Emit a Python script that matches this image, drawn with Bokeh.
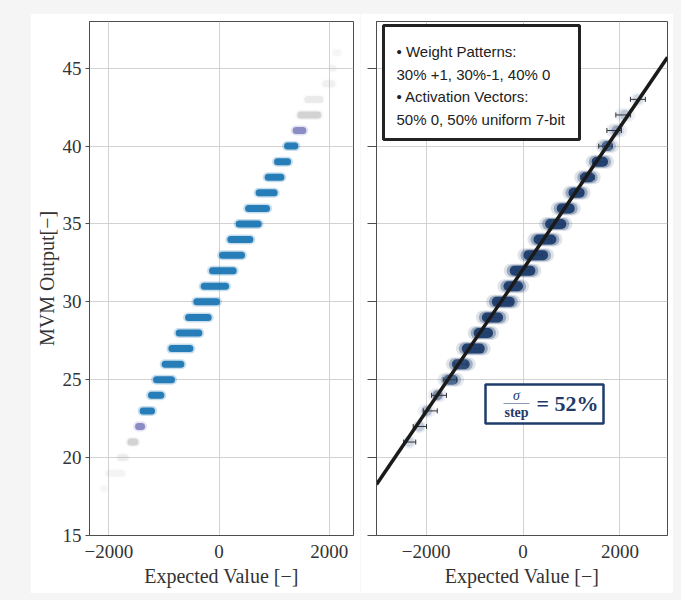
import numpy as np
from bokeh.plotting import figure
from bokeh.models import Range1d, BoxAnnotation, Label, Spacer
from bokeh.layouts import row, column
from bokeh.embed import file_html
from bokeh.resources import INLINE

# ---------------- data ----------------
x_ticks = [-2000, 0, 2000]
y_ticks = [15, 20, 25, 30, 35, 40, 45]
x_tick_labels = {-2000: "\u22122000", 0: "0", 2000: "2000"}

# left panel: output level, x-extent of each cluster, relative density
left_levels = list(range(18, 47))
left_lo = [-2155, -2095, -1883, -1701, -1561, -1478, -1326, -1235, -1078, -957,
           -824, -654, -503, -370, -218, -36, 114, 265, 436, 628,
           792, 962, 1144, 1300, 1385, 1512, 1839, 1984, 2020]
left_hi = [-2033, -1670, -1610, -1429, -1307, -1126, -957, -763, -594, -430,
           -267, -98, 54, 218, 356, 508, 659, 810, 962, 1100,
           1222, 1343, 1476, 1621, 1893, 1930, 2148, 2148, 2257]
left_weight = [0.04, 0.05, 0.08, 0.22, 0.5, 1, 1, 1, 1, 1,
               1, 1, 1, 1, 1, 1, 1, 1, 1, 1,
               1, 1, 0.95, 0.5, 0.22, 0.1, 0.07, 0.05, 0.04]

# right panel
right_levels = list(range(21, 44))
right_lo = [-2487, -2280, -2177, -1959, -1765, -1594, -1388, -1146, -975, -769,
            -528, -400, -115, 91, 330, 571, 812, 1058, 1293, 1499,
            1705, 1877, 2200]
right_hi = [-2212, -2006, -1800, -1573, -1216, -975, -666, -495, -288, -47,
            124, 379, 640, 812, 1018, 1190, 1396, 1602, 1877, 1980,
            2153, 2324, 2540]
right_weight = [0.12, 0.18, 0.25, 0.45, 0.7, 0.9, 1, 1, 1, 1,
                1, 1, 1, 1, 1, 1, 1, 1, 1, 0.7,
                0.35, 0.2, 0.12]
right_mean = [-2340, -2130, -1915, -1735, -1510, -1290, -1030, -820, -630, -410,
              -200, -10, 260, 450, 670, 880, 1100, 1330, 1585, 1700,
              1880, 2065, 2370]
right_std = [125, 137, 144, 154, 137, 130, 140, 140, 140, 140,
             140, 140, 140, 140, 140, 140, 140, 140, 140, 140,
             150, 150, 154]
fit_slope = 0.004566
fit_intercept = 32.09

info_lines = ["\u2022 Weight Patterns:", "30% +1, 30%-1, 40% 0",
              "\u2022 Activation Vectors:", "50% 0, 50% uniform 7-bit"]
sigma_value = "= 52%"

# ---------------- geometry / style ----------------
Y0, Y1 = 15, 48
LX0, LX1 = -2352, 2441
RX0, RX1 = -3025, 2981
FIG_H = 580
TOP, BOTTOM = 8, 58
L_W, L_LEFT, L_RIGHT = 330, 59, 7
R_W, R_LEFT, R_RIGHT = 313, 16, 6
PAGE_X0, PAGE_Y0 = 30, 13
SERIF = "Liberation Serif"
SANS = "Liberation Sans"
AX_COL = "#4d4d4d"
TXT_COL = "#333333"


def style_axes(p):
    p.outline_line_color = AX_COL
    p.outline_line_width = 1
    p.outline_line_alpha = 1
    for ax in p.axis:
        ax.axis_line_color = AX_COL
        ax.major_tick_line_color = AX_COL
        ax.minor_tick_line_color = None
        ax.major_tick_in = 0
        ax.major_label_text_font = SERIF
        ax.major_label_text_font_size = "19px"
        ax.major_label_text_color = TXT_COL
        ax.axis_label_text_font = SERIF
        ax.axis_label_text_font_size = "20px"
        ax.axis_label_text_font_style = "normal"
        ax.axis_label_text_color = TXT_COL
    p.xaxis.ticker = x_ticks
    p.yaxis.ticker = y_ticks
    p.xaxis.major_label_overrides = x_tick_labels
    p.xaxis.major_tick_line_color = None
    p.xaxis.major_tick_out = 0
    p.xaxis.major_label_standoff = 9
    p.xaxis.axis_label_standoff = 4
    p.grid.grid_line_color = "#d2d2d2"
    p.grid.grid_line_width = 1


# ---------------- left panel ----------------
left = figure(width=L_W, height=FIG_H, x_range=Range1d(LX0, LX1), y_range=Range1d(Y0, Y1),
              output_backend="svg", toolbar_location=None,
              min_border_left=L_LEFT, min_border_right=L_RIGHT,
              min_border_top=TOP, min_border_bottom=BOTTOM,
              x_axis_label="Expected Value [\u2212]", y_axis_label="MVM Output[\u2212]",
              border_fill_color="white", background_fill_color="white")
style_axes(left)
left.yaxis.major_tick_out = 4
left.yaxis.major_label_standoff = 4
left.yaxis.axis_label_standoff = 2

l_scale = (L_W - L_LEFT - L_RIGHT) / (LX1 - LX0)  # px per data unit
lw_arr = np.array(left_weight)
l_col = ["#1f77b4" if w >= 0.9 else ("#7b7bbd" if w >= 0.4 else "#ababab") for w in left_weight]
l_alpha = np.where(lw_arr >= 0.9, 0.95, np.where(lw_arr >= 0.4, 0.85, np.minimum(1, lw_arr * 2.1)))
lo = np.array(left_lo, float)
hi = np.array(left_hi, float)
for lwpx, inset_px, afac in [(10, 0, 0.25), (7, 2, 1.0)]:
    r = (lwpx / 2 + inset_px) / l_scale
    mid = (lo + hi) / 2
    x0 = np.minimum(lo + r, mid)
    x1 = np.maximum(hi - r, mid)
    left.segment(x0=x0, x1=x1, y0=left_levels, y1=left_levels, line_color=l_col,
                 line_alpha=l_alpha * afac, line_width=lwpx, line_cap="round")

# ---------------- right panel ----------------
right = figure(width=R_W, height=FIG_H, x_range=Range1d(RX0, RX1), y_range=Range1d(Y0, Y1),
               output_backend="svg", toolbar_location=None,
               min_border_left=R_LEFT, min_border_right=R_RIGHT,
               min_border_top=TOP, min_border_bottom=BOTTOM,
               x_axis_label="Expected Value [\u2212]",
               border_fill_color="white", background_fill_color="white")
style_axes(right)
right.yaxis.major_tick_out = 9
right.yaxis.major_label_text_font_size = "1px"
right.yaxis.major_label_text_color = None
right.yaxis.major_label_standoff = 0

r_scale = (R_W - R_LEFT - R_RIGHT) / (RX1 - RX0)
rw_arr = np.array(right_weight)
rlo = np.array(right_lo, float)
rhi = np.array(right_hi, float)
NAVY = "#1d3c6c"

# error bars (mean +- std), beneath the clusters
mean = np.array(right_mean, float)
std = np.array(right_std, float)
right.segment(x0=mean - std, x1=mean + std, y0=right_levels, y1=right_levels,
              line_color="#333333", line_width=1)
right.scatter(x=np.concatenate([mean - std, mean + std]), y=right_levels + right_levels,
              marker="dash", angle=np.pi / 2, size=5, line_color="#333333", line_width=1)

for lwpx, inset_px, afac in [(14, 0, 0.10), (12, 3, 0.35), (10, 6, 0.95)]:
    r = (lwpx / 2 + inset_px) / r_scale
    mid = (rlo + rhi) / 2
    x0 = np.minimum(rlo + r, mid)
    x1 = np.maximum(rhi - r, mid)
    right.segment(x0=x0, x1=x1, y0=right_levels, y1=right_levels, line_color=NAVY,
                  line_alpha=np.minimum(1, rw_arr * afac + (0.04 if afac < 0.2 else 0)),
                  line_width=lwpx, line_cap="round")

# linear fit
fx = np.array([RX0, RX1], float)
right.line(x=fx, y=fit_intercept + fit_slope * fx, line_color="#1a1a1a", line_width=3.5)

# helpers: page pixel -> data coords in right panel
R_PAGE_X = PAGE_X0 + L_W
fl = R_PAGE_X + R_LEFT
fr = R_PAGE_X + R_W - R_RIGHT
ft = PAGE_Y0 + TOP
fb = PAGE_Y0 + FIG_H - BOTTOM


def rx(px):
    return RX0 + (px - fl) / (fr - fl) * (RX1 - RX0)


def ry(py):
    return Y1 - (py - ft) / (fb - ft) * (Y1 - Y0)


# info box
right.add_layout(BoxAnnotation(left=rx(383), right=rx(579), top=ry(25), bottom=ry(139),
                               fill_color="white", fill_alpha=1, line_color="#222222",
                               line_alpha=1, line_width=3))
for txt, py in zip(info_lines, [51, 73.5, 96, 118.5]):
    right.add_layout(Label(x=rx(396), y=ry(py), text=txt, text_font=SANS,
                           text_font_size="15px", text_color="#222222",
                           text_align="left", text_baseline="middle"))

# sigma box
SIG_COL = "#1f3a68"
right.add_layout(BoxAnnotation(left=rx(485), right=rx(603), top=ry(384), bottom=ry(423),
                               fill_color="white", fill_alpha=1, line_color="#1f3d6b",
                               line_alpha=1, line_width=2.5))
right.add_layout(BoxAnnotation(left=rx(503), right=rx(529), top=ry(402.4), bottom=ry(403.6),
                               fill_color="#8c9bb5", fill_alpha=1, line_color=None))
right.add_layout(Label(x=rx(516), y=ry(395), text="\u03c3", text_font=SERIF,
                       text_font_style="italic", text_font_size="14px", text_color=SIG_COL,
                       text_align="center", text_baseline="middle"))
right.add_layout(Label(x=rx(516), y=ry(411.5), text="step", text_font=SERIF,
                       text_font_style="bold", text_font_size="14px", text_color=SIG_COL,
                       text_align="center", text_baseline="middle"))
right.add_layout(Label(x=rx(536), y=ry(403), text=sigma_value, text_font=SERIF,
                       text_font_style="bold", text_font_size="22px", text_color=SIG_COL,
                       text_align="left", text_baseline="middle"))

root = column(Spacer(height=PAGE_Y0),
              row(Spacer(width=PAGE_X0), left, right, Spacer(width=8)),
              Spacer(height=7),
              styles={"background-color": "#f5f5f5"})

open("out.html", "w").write(file_html(root, INLINE))
